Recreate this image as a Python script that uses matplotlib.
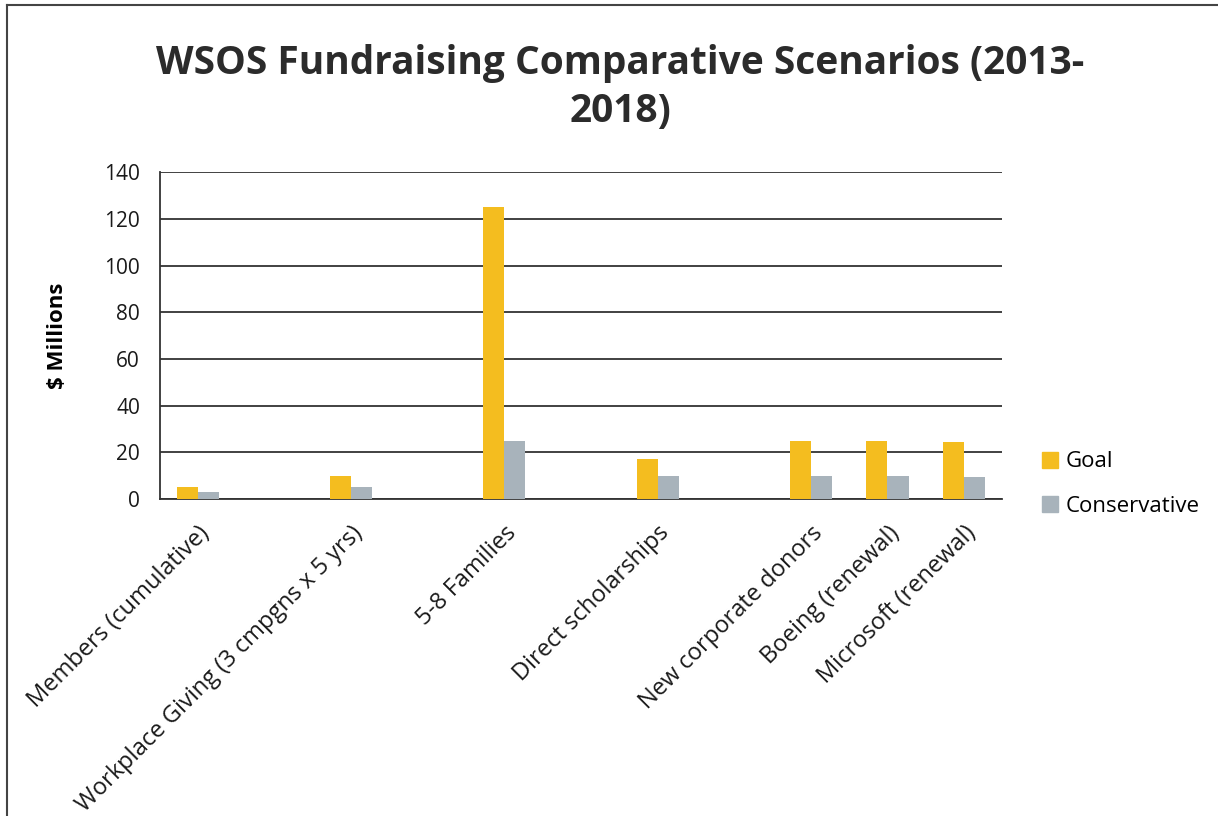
import matplotlib.pyplot as plt
from matplotlib.lines import Line2D
import numpy as np

plt.rcParams['font.family'] = ['Open Sans', 'DejaVu Sans']

# blank slots keep the same spacing as the chart's empty categories
categories = ['Members (cumulative)', '', 'Workplace Giving (3 cmpgns x 5 yrs)', '',
              '5-8 Families', '', 'Direct scholarships', '',
              'New corporate donors', 'Boeing (renewal)', 'Microsoft (renewal)']
goal = [5, np.nan, 10, np.nan, 125, np.nan, 17, np.nan, 25, 25, 24.5]
conservative = [3, np.nan, 5, np.nan, 25, np.nan, 10, np.nan, 10, 10, 9.5]

goal_color = '#F4BD1F'
cons_color = '#A8B3BB'

fig = plt.figure(figsize=(12.18, 8.16), dpi=100)
ax = fig.add_axes([0.131, 0.3885, 0.692, 0.4005])

x = np.arange(len(categories))
w = 0.275
ax.bar(x - w / 2, goal, w, color=goal_color, label='Goal', zorder=3)
ax.bar(x + w / 2, conservative, w, color=cons_color, label='Conservative', zorder=3)

ax.set_xlim(-0.5, len(categories) - 0.5)
ax.set_ylim(0, 140)
ax.set_yticks(range(0, 141, 20))
ax.yaxis.grid(True, color='#333333', linewidth=1.3, zorder=0)

ax.set_xticks(x)
ax.set_xticklabels(categories, rotation=45, ha='right', rotation_mode='anchor',
                   fontsize=17, color='#1a1a1a')
ax.tick_params(axis='x', length=0, pad=16)
ax.tick_params(axis='y', length=0, pad=14, labelsize=15, labelcolor='#1a1a1a')

for side in ['top', 'right']:
    ax.spines[side].set_visible(False)
ax.spines['left'].set_color('#333333')
ax.spines['bottom'].set_color('#333333')
ax.spines['left'].set_linewidth(1.3)
ax.spines['bottom'].set_linewidth(1.3)

ax.set_ylabel('$ Millions', fontsize=16, fontweight='bold', labelpad=26)

fig.text(0.509, 0.893, 'WSOS Fundraising Comparative Scenarios (2013-\n2018)',
         ha='center', va='center', fontsize=28, fontweight='bold',
         color='#2b2b2b', linespacing=1.3)

handles = [Line2D([], [], marker='s', linestyle='none', markersize=11,
                  color=goal_color, label='Goal'),
           Line2D([], [], marker='s', linestyle='none', markersize=11,
                  color=cons_color, label='Conservative')]
ax.legend(handles=handles, loc='center left', bbox_to_anchor=(1.02, 0.046),
          frameon=False, fontsize=16, handletextpad=0.2, labelspacing=1.05,
          handlelength=1.0)

# outer chart frame
fig.add_artist(Line2D([0.006, 0.006], [0.0, 0.994], color='#444444', linewidth=1.5))
fig.add_artist(Line2D([0.006, 1.0], [0.994, 0.994], color='#444444', linewidth=1.5))

fig.savefig('out.png', dpi=100)
